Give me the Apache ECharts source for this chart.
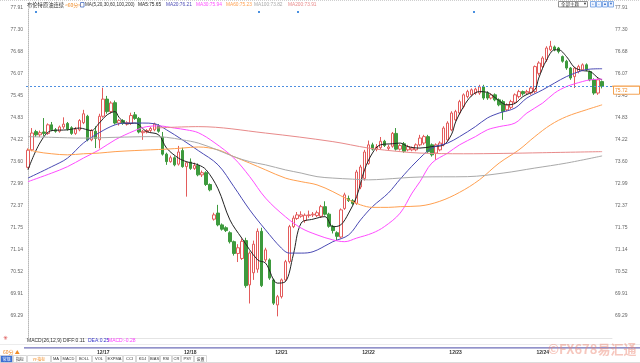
<!DOCTYPE html>
<html><head><meta charset="utf-8">
<script src="https://cdn.jsdelivr.net/npm/echarts@6/dist/echarts.min.js"></script>
<style>html,body{margin:0;padding:0;background:#fff}#c{width:640px;height:363px}</style>
</head><body><div id="c"></div>
<script>
// ---------------- DATA ----------------
const N_SLOTS = 148;                       // category slots on the time axis (146 bars + right margin)
const dateTickIndex = [19, 41, 64, 86, 108, 130];
const dateTickText  = ['12/17', '12/18', '12/21', '12/22', '12/23', '12/24'];

const openP = [73.45,73.94,74.45,74.36,74.44,74.40,74.64,74.50,74.46,74.58,74.68,74.56,74.40,74.50,74.70,74.88,74.22,74.46,74.22,74.88,
75.36,75.01,75.26,74.69,74.76,74.66,74.68,74.92,74.82,74.42,74.44,74.48,74.50,74.62,74.30,73.82,73.61,73.72,73.54,73.92,
73.47,73.60,73.42,73.50,73.24,73.30,72.97,72.00,72.17,71.84,71.76,71.62,71.37,71.04,70.90,71.40,70.16,70.50,70.60,71.66,
70.86,70.86,70.30,69.60,69.83,70.30,70.81,71.79,72.02,72.08,71.96,72.10,72.12,72.10,72.08,72.35,72.14,71.80,71.62,71.50,
72.30,72.58,72.52,72.44,72.90,73.14,73.56,74.08,73.96,74.00,74.18,73.98,74.04,74.40,73.96,74.11,73.94,73.94,73.94,74.08,
74.13,74.31,74.08,73.85,73.94,74.08,74.22,74.50,74.78,74.97,75.15,75.43,75.48,75.53,75.53,75.70,75.53,75.39,75.48,75.34,
75.29,75.06,75.13,75.27,75.43,75.57,75.53,75.53,75.57,76.08,76.27,76.46,76.74,76.82,76.79,76.55,76.42,76.23,75.99,76.13,
76.18,76.32,76.13,75.90,75.53,75.85];
const closeP = [73.93,74.41,74.36,74.42,74.40,74.64,74.50,74.46,74.58,74.66,74.52,74.40,74.52,74.76,74.95,74.22,74.48,74.26,74.88,75.36,
75.01,75.25,74.69,74.76,74.68,74.70,74.90,74.82,74.44,74.46,74.48,74.54,74.66,74.46,73.82,73.61,73.72,73.52,73.88,73.47,
73.58,73.42,73.50,73.24,73.30,72.97,72.82,72.12,71.84,71.72,71.68,71.37,71.04,71.20,71.38,70.14,71.05,71.30,71.66,70.14,
71.14,70.35,69.65,69.83,70.30,70.81,71.79,72.03,72.12,72.12,72.11,72.12,72.14,72.18,72.35,72.14,71.80,71.68,71.52,72.26,
72.68,72.52,72.44,73.32,73.46,73.88,74.08,73.96,74.02,74.18,74.06,74.02,74.40,73.96,74.06,73.90,74.03,73.99,74.08,74.27,
74.31,73.89,73.80,74.08,74.13,74.55,74.69,74.97,75.01,75.29,75.48,75.57,75.62,75.64,75.70,75.39,75.39,75.48,75.34,75.20,
75.01,75.20,75.29,75.48,75.57,75.51,75.57,75.67,76.27,76.37,76.51,76.79,76.84,76.74,76.69,76.42,76.23,75.95,76.23,76.27,
76.32,76.18,75.90,75.53,75.90,75.72];
const lowP = [73.42,73.90,74.30,74.30,74.33,74.36,74.46,74.42,74.42,74.52,74.48,74.36,74.36,74.46,74.66,74.18,74.18,73.99,73.98,74.84,
74.95,74.96,74.65,74.62,74.64,74.62,74.64,74.78,74.40,74.22,74.40,74.44,74.46,74.42,73.78,73.52,73.58,73.48,73.50,73.44,
72.63,73.38,73.38,73.20,73.18,72.93,72.78,71.96,71.80,71.68,71.64,71.32,70.98,70.80,70.86,70.08,69.64,70.30,70.50,70.10,
70.80,70.30,69.60,69.28,69.78,70.26,70.76,71.75,71.98,72.04,71.90,72.04,72.06,72.06,72.04,72.10,71.76,71.60,71.40,71.46,
72.26,72.48,72.40,72.40,72.84,73.08,73.52,73.92,73.90,73.96,74.02,73.92,74.00,73.92,73.92,73.86,73.90,73.90,73.90,74.04,
74.08,73.85,73.75,73.66,73.90,74.04,74.18,74.46,74.74,74.92,75.10,75.38,75.44,75.48,75.48,75.34,75.34,75.35,75.30,75.16,
74.78,75.02,75.08,75.22,75.38,75.46,75.48,75.48,75.52,76.02,76.22,76.40,76.70,76.70,76.64,76.38,76.18,75.90,75.67,76.08,
76.14,76.14,75.86,75.48,75.48,75.66];
const highP = [73.98,74.55,74.50,74.48,74.83,74.68,74.72,74.55,74.62,74.85,74.72,74.60,74.58,74.80,75.06,74.92,74.52,74.60,74.95,75.68,
75.45,75.30,75.32,74.80,74.80,74.74,74.98,75.00,74.86,74.50,74.52,74.58,74.70,74.66,74.44,73.86,73.78,73.76,74.05,74.00,
73.62,73.70,73.58,73.56,73.36,73.34,73.00,72.18,72.40,71.88,71.80,71.66,71.40,71.30,71.46,71.48,71.10,71.40,71.74,71.76,
71.20,70.90,70.34,69.88,70.34,70.86,71.84,72.10,72.20,72.22,72.16,72.24,72.20,72.24,72.40,72.50,72.18,71.84,71.66,72.30,
72.74,72.66,72.56,73.38,73.52,73.94,74.20,74.14,74.10,74.30,74.22,74.08,74.44,74.55,74.10,74.16,74.08,74.03,74.12,74.36,
74.36,74.36,74.12,74.12,74.18,74.60,74.74,75.02,75.06,75.34,75.52,75.62,75.66,75.68,75.76,75.76,75.58,75.52,75.52,75.38,
75.34,75.24,75.34,75.52,75.62,75.60,75.62,75.72,76.30,76.42,76.56,76.84,76.99,76.86,76.82,76.58,76.46,76.26,76.26,76.32,
76.36,76.36,76.16,75.94,75.94,75.88];

// moving averages: [bar index, value]
const ma5Pts = [[0,73.38],[3,74.13],[6,74.48],[10,74.50],[13,74.55],[16,74.48],[18,74.69],[20,74.92],[22,75.01],[23,74.85],[25,74.67],[27,74.69],[30,74.45],[33,74.36],[35,73.99],[38,73.71],[40,73.61],[43,73.52],[45,73.38],[48,72.85],[51,71.98],[54,71.47],[58,70.86],[60,70.77],[63,70.21],[65,70.25],[67,71.00],[69,71.89],[72,72.00],[75,72.07],[77,71.79],[79,71.84],[81,72.17],[83,72.63],[85,73.38],[87,73.85],[89,74.08],[92,74.11],[94,74.13],[96,74.03],[99,73.99],[102,74.03],[105,74.08],[107,74.38],[108,74.72],[110,75.15],[112,75.45],[114,75.57],[116,75.55],[118,75.40],[121,75.20],[123,75.24],[125,75.43],[128,75.62],[129,75.95],[131,76.46],[133,76.74],[134,76.74],[136,76.55],[138,76.25],[140,76.16],[142,76.13],[144,75.95],[145,75.90]];
const ma20Pts = [[0,73.15],[6,73.47],[10,73.71],[14,74.13],[18,74.42],[22,74.64],[25,74.69],[29,74.69],[32,74.67],[35,74.50],[39,74.22],[43,73.92],[48,73.52],[52,72.91],[56,72.26],[60,71.70],[64,71.19],[66,71.05],[69,71.05],[72,71.09],[76,71.31],[77,71.37],[81,71.56],[84,71.98],[87,72.35],[91,72.73],[94,73.12],[98,73.60],[102,73.99],[106,74.13],[109,74.31],[113,74.59],[116,74.83],[119,74.97],[123,75.11],[126,75.39],[130,75.62],[133,75.81],[136,75.99],[140,76.16],[142,76.20],[145,76.21]];
const ma30Pts = [[0,73.05],[6,73.29],[10,73.47],[14,73.71],[18,73.94],[22,74.22],[27,74.48],[30,74.59],[33,74.61],[37,74.55],[40,74.50],[43,74.42],[47,74.15],[52,73.71],[56,73.19],[60,72.59],[65,72.07],[69,71.75],[73,71.56],[77,71.42],[80,71.37],[83,71.47],[87,71.61],[90,71.79],[94,72.17],[97,72.73],[99,73.05],[102,73.57],[106,73.85],[109,74.08],[113,74.31],[116,74.50],[119,74.59],[123,74.69],[126,74.97],[130,75.25],[133,75.53],[136,75.71],[140,75.85],[142,75.90],[145,75.92]];
const ma60Pts = [[0,73.96],[2,73.89],[6,73.83],[10,73.80],[14,73.83],[18,73.85],[22,73.89],[27,73.92],[31,73.94],[35,73.96],[39,73.99],[43,74.02],[48,73.94],[52,73.75],[56,73.57],[60,73.38],[65,73.15],[69,73.05],[73,72.96],[77,72.77],[81,72.54],[84,72.40],[87,72.33],[91,72.33],[94,72.35],[99,72.37],[104,72.50],[109,72.75],[114,73.10],[119,73.57],[124,73.94],[128,74.31],[132,74.64],[136,74.87],[141,75.06],[145,75.20]];
const ma100Pts = [[0,74.31],[6,74.29],[14,74.27],[22,74.29],[31,74.31],[35,74.29],[39,74.22],[43,74.13],[48,73.93],[52,73.75],[56,73.61],[60,73.52],[65,73.38],[69,73.29],[73,73.19],[77,73.15],[82,73.12],[86,73.10],[90,73.12],[94,73.15],[99,73.18],[111,73.19],[120,73.29],[128,73.43],[136,73.57],[145,73.77]];
const ma200Pts = [[32,74.55],[43,74.59],[60,74.41],[77,74.17],[86,73.99],[94,73.89],[99,73.85],[110,73.83],[120,73.84],[130,73.86],[145,73.89]];

const yTickLabels = ['69.29','69.91','70.52','71.14','71.75','72.37','72.99','73.60','74.22','74.83','75.45','76.07','76.68','77.30','77.91'];
const Y_MIN = 68.674, Y_MAX = 77.91;
const lastPrice = 75.72;

const extremeIdx  = [19, 0, 63, 132];
const extremeVal  = [75.68, 73.42, 69.28, 76.99];
const extremeKind = ['high', 'low', 'low', 'high'];

const legendItems = ['MA5:75.65','MA20:76.21','MA30:75.94','MA60:75.23','MA100:73.82','MA200:73.91'];
const macdTexts = ['MACD(26,12,9) DIFF:0.11','DEA:0.25','MACD:-0.28'];
const toolbarItems = ['常规','指标','YF指标','MA','MACD','BOLL','VOL','EXPMA','CCI','KDJ','BIAS','RSI','CR','PSY','设置'];

// ---------------- STYLE ----------------
const FONT = 'Liberation Sans, Arial, sans-serif';
const CJK = 'Noto Sans CJK SC, sans-serif';
const UP = '#e35b5b', DOWN = '#3d9a3d';
const maColors = ['#222222','#4a4ab4','#ff4cff','#ffa050','#a9a9a9','#e88a8a'];

const categories = Array.from({length: N_SLOTS}, (_, i) => {
  const k = dateTickIndex.indexOf(i); return k >= 0 ? dateTickText[k] : '';
});
const candleData = openP.map((o, i) => [o, closeP[i], lowP[i], highP[i]]);
const yTickValues = yTickLabels.map(Number);

const extremeStyle = {
  high: {color: UP, offset: [9, 1]},
  low:  {color: DOWN, offset: [8, 4]}
};
const extremeData = extremeIdx.map((idx, k) => ({
  value: [idx, extremeVal[k]],
  label: {formatter: extremeVal[k].toFixed(2), color: extremeStyle[extremeKind[k]].color,
          offset: extremeKind[k] === 'high' && k === 3 ? [9, -3] : extremeStyle[extremeKind[k]].offset}
}));

const maSeries = [ma5Pts, ma20Pts, ma30Pts, ma60Pts, ma100Pts, ma200Pts].map((pts, k) => ({
  type: 'line', name: legendItems[k], xAxisIndex: 1, yAxisIndex: 0, data: pts,
  smooth: 0.35, symbol: 'none', silent: true,
  lineStyle: {width: 1, color: maColors[k]}, z: 3
}));

const chart = echarts.init(document.getElementById('c'), null, {renderer: 'canvas'});
const yLabelFmt = v => { const k = yTickValues.indexOf(v); return k >= 0 ? yTickLabels[k] : ''; };

chart.setOption({
  animation: false,
  backgroundColor: '#ffffff',
  grid: {left: 26, right: 28, top: 8, bottom: 25},
  xAxis: [
    {type: 'category', data: categories, boundaryGap: true,
     axisLine: {show: true, lineStyle: {color: '#e4e4e4'}}, axisTick: {show: false},
     axisLabel: {interval: 0, margin: 12.5, fontSize: 5, fontWeight: 'bold', color: '#333', fontFamily: FONT},
     splitLine: {show: false}},
    {type: 'value', min: -0.5, max: N_SLOTS - 0.5, show: false}
  ],
  yAxis: [
    {type: 'value', position: 'left', min: Y_MIN, max: Y_MAX, scale: true,
     axisLine: {show: true, lineStyle: {color: '#b8b8b8', type: 'dotted'}}, axisTick: {show: false},
     splitLine: {show: false},
     axisLabel: {customValues: yTickValues, formatter: yLabelFmt, fontSize: 5, color: '#666', margin: 3, fontFamily: FONT}},
    {type: 'value', position: 'right', min: Y_MIN, max: Y_MAX, scale: true,
     axisLine: {show: false}, axisTick: {show: false}, splitLine: {show: false},
     axisLabel: {customValues: yTickValues, formatter: yLabelFmt, fontSize: 5, color: '#666', margin: 3, fontFamily: FONT}}
  ],
  series: [
    {type: 'candlestick', xAxisIndex: 0, yAxisIndex: 0, data: candleData, barWidth: 3, silent: true,
     itemStyle: {color: '#ffffff', color0: DOWN, borderColor: UP, borderColor0: DOWN, borderWidth: 1},
     markLine: {symbol: ['none', 'none'], silent: true, label: {show: false},
                lineStyle: {color: '#4f8fe0', type: [2, 2], width: 1}, data: [{yAxis: lastPrice}]}, z: 2},
    ...maSeries,
    {type: 'scatter', xAxisIndex: 0, yAxisIndex: 0, data: extremeData, symbolSize: 1, silent: true,
     itemStyle: {opacity: 0}, z: 5,
     label: {show: true, position: 'inside', fontSize: 5, fontFamily: FONT}}
  ]
});

// ---------------- DECORATION (text, toolbar) ----------------
function T(x, y, text, fill, size, extra) {
  return {type: 'text', x: x, y: y, silent: true, z: 20,
          style: Object.assign({text: text, fill: fill, fontSize: size || 5, fontFamily: FONT, verticalAlign: 'middle'}, extra || {})};
}
const g = [];
// top dotted border
g.push({type: 'line', silent: true, shape: {x1: 0, y1: 0.5, x2: 640, y2: 0.5}, style: {stroke: '#cfcfcf', lineDash: [1, 1], lineWidth: 1}});
// legend
g.push(T(27, 5, '布伦特原油连续', '#333', 5.3, {fontFamily: CJK}));
g.push(T(65, 5, '<60分>', '#f08c28', 5, {fontFamily: CJK}));
g.push({type: 'rect', silent: true, shape: {x: 80.5, y: 2.5, width: 3.5, height: 4.5}, style: {fill: '#fff', stroke: '#4a6fc0', lineWidth: 0.8}});
g.push(T(85, 5, 'MA(5,20,30,60,100,200)', '#333', 4.6));
const legendX = [138, 166, 196, 226, 254, 288];
legendItems.forEach((t, k) => g.push(T(legendX[k], 5, t, k === 0 ? '#222' : maColors[k], 4.8)));
// event markers
[36, 259, 298, 474].forEach(x => g.push({type: 'rect', silent: true, shape: {x: x - 1, y: 11, width: 2, height: 2}, style: {fill: '#4a90e0'}}));
// top right controls
g.push({type: 'rect', silent: true, shape: {x: 558.5, y: 1.5, width: 29, height: 5.5}, style: {fill: '#fff', stroke: '#777', lineWidth: 0.8}});
g.push(T(561, 4.3, '全部主题', '#444', 4.5, {fontFamily: CJK}));
g.push(T(583, 4.3, '▼', '#333', 4));
['+', '-', '▲', '▼'].forEach((s, k) => {
  g.push({type: 'rect', silent: true, shape: {x: 590.5 + k * 6, y: 1.5, width: 5, height: 5.5}, style: {fill: '#eef4ff', stroke: '#6a9ae0', lineWidth: 0.8}});
  g.push(T(593 + k * 6, 4.3, s, '#3a6fc8', 4, {align: 'center'}));
});
// MACD line
g.push(T(3, 338.5, '✳', '#d84040', 6));
g.push(T(27, 340.5, macdTexts[0], '#333', 5));
g.push(T(88, 340.5, macdTexts[1], '#3434c8', 5));
g.push(T(108, 340.5, macdTexts[2], '#ff3cff', 5));
g.push({type: 'line', silent: true, shape: {x1: 0, y1: 344.5, x2: 640, y2: 344.5}, style: {stroke: '#ececec', lineWidth: 1}});
// time axis band
g.push({type: 'line', silent: true, shape: {x1: 24, y1: 347.8, x2: 640, y2: 347.8}, style: {stroke: '#6e6eb8', lineWidth: 1.2}});
g.push(T(3, 352, '60分 ▲', '#f08c28', 5, {fontFamily: CJK}));
// toolbar
const tbX = [0, 13, 27, 51, 61, 76, 92, 106, 123, 136, 149, 160, 172, 181, 194];
const tbW = [13, 14, 24, 10, 15, 16, 14, 17, 13, 13, 11, 12, 9, 13, 13];
toolbarItems.forEach((t, k) => {
  const sel = k === 0;
  g.push({type: 'rect', silent: true, shape: {x: tbX[k] + 0.5, y: 355.5, width: tbW[k] - 1, height: 7},
          style: {fill: sel ? '#3b6fd4' : '#ffffff', stroke: '#cfcfcf', lineWidth: 0.8}});
  g.push(T(tbX[k] + tbW[k] / 2, 359.2, t, sel ? '#fff' : (k === 2 ? '#f08c28' : '#333'), 4,
           {align: 'center', fontFamily: /[\u4e00-\u9fff]/.test(t) ? CJK : FONT}));
});
g.push({type: 'line', silent: true, shape: {x1: 207, y1: 362.5, x2: 640, y2: 362.5}, style: {stroke: '#dcdcdc', lineWidth: 1}});
// watermark
g.push(T(548, 349, '©FX678易汇通', 'rgba(236,130,110,0.45)', 13, {fontFamily: CJK, fontWeight: 'bold'}));
// right-side last price box, positioned with the axis scale
const py = chart.convertToPixel({yAxisIndex: 0}, lastPrice);
g.push({type: 'line', silent: true, shape: {x1: 612, y1: py, x2: 640, y2: py}, style: {stroke: '#f08c28', lineWidth: 1}});
g.push({type: 'rect', silent: true, z: 19, shape: {x: 613.5, y: py, width: 26, height: 8}, style: {fill: '#fff', stroke: '#f08c28', lineWidth: 0.8}});
g.push(T(615, py + 4.2, lastPrice.toFixed(2), '#f08c28', 5));

chart.setOption({graphic: g});
</script>
</body></html>
